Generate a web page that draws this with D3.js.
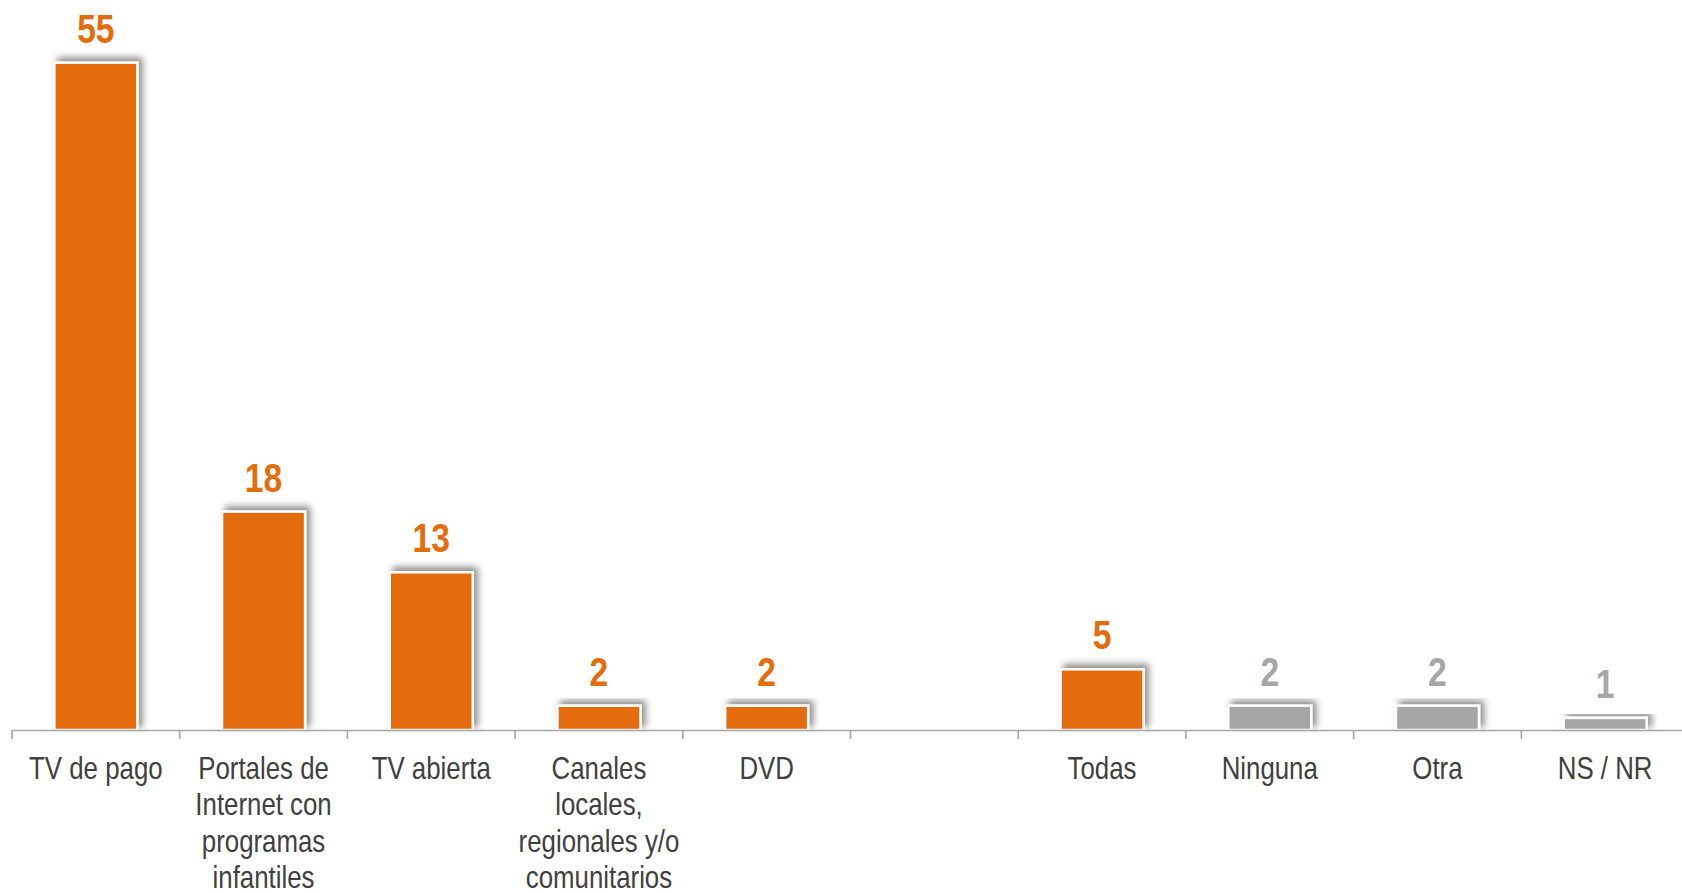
<!DOCTYPE html>
<html>
<head>
<meta charset="utf-8">
<script src="https://cdn.jsdelivr.net/npm/d3@7"></script>
<style>
  body { margin: 0; background: #fff; }
  svg { display: block; }
</style>
</head>
<body>
<svg id="chart" width="1682" height="893"></svg>
<script>
// categories, one empty slot between DVD and Todas
const categories = ["TV de pago", "Portales de Internet con programas infantiles", "TV abierta",
  "Canales locales, regionales y/o comunitarios", "DVD", "", "Todas", "Ninguna", "Otra", "NS / NR"];
const labelLines = [["TV de pago"], ["Portales de", "Internet con", "programas", "infantiles"], ["TV abierta"],
  ["Canales", "locales,", "regionales y/o", "comunitarios"], ["DVD"], [], ["Todas"], ["Ninguna"], ["Otra"], ["NS / NR"]];
const values = [55, 18, 13, 2, 2, null, 5, 2, 2, 1];
const groups = ["main", "main", "main", "main", "main", "none", "main", "other", "other", "other"];

const orange = "#E46C0A", grey = "#A6A6A6";
const fontFam = "'Liberation Sans', Arial, sans-serif";
const narrow = 0.82; // no Arial Narrow here, so squeeze Liberation Sans

const svg = d3.select("#chart");
const baseY = 730;

const x = d3.scaleBand()
  .domain(d3.range(categories.length))
  .range([12, 1689])
  .paddingInner(0.505)
  .paddingOuter(0.2525);

const y = d3.scaleLinear()
  .domain([0, 60])
  .range([baseY, 2]);

// shadow
const defs = svg.append("defs");
const f = defs.append("filter").attr("id", "shadow")
  .attr("x", "-30%").attr("y", "-30%").attr("width", "160%").attr("height", "160%");
f.append("feDropShadow")
  .attr("dx", 4).attr("dy", -4).attr("stdDeviation", 3.5)
  .attr("flood-color", "#000").attr("flood-opacity", 0.45);

const data = categories.map((c, i) => ({ i: i, cat: c, v: values[i], g: groups[i] }))
  .filter(d => d.v != null);

svg.append("g").selectAll("rect")
  .data(data)
  .join("rect")
  .attr("x", d => x(d.i))
  .attr("y", d => y(d.v))
  .attr("width", x.bandwidth())
  .attr("height", d => y(0) - y(d.v))
  .attr("fill", d => d.g == "other" ? grey : orange)
  .attr("stroke", "#fff")
  .attr("stroke-width", 2.5)
  .attr("filter", "url(#shadow)");

// value labels
svg.append("g").selectAll("g")
  .data(data)
  .join("g")
  .attr("transform", d => `translate(${x(d.i) + x.bandwidth() / 2},${y(d.v) - 20}) scale(${narrow},1)`)
  .append("text")
  .attr("text-anchor", "middle")
  .style("font-family", fontFam)
  .style("font-weight", "bold")
  .style("font-size", "41px")
  .attr("fill", d => d.g == "other" ? grey : orange)
  .text(d => d.v);

// axis
const axis = svg.append("g")
  .attr("transform", `translate(0,${baseY})`)
  .call(d3.axisBottom(x).tickSize(0).tickFormat(""));
axis.select(".domain").attr("stroke", grey).attr("stroke-width", 1.6);

// boundary ticks
const bounds = d3.range(categories.length).map(i => x(i) - x.step() * x.paddingInner() / 2);
axis.selectAll(".btick")
  .data(bounds)
  .join("line")
  .attr("class", "btick")
  .attr("x1", d => d).attr("x2", d => d)
  .attr("y1", 0).attr("y2", 9)
  .attr("stroke", grey).attr("stroke-width", 1.6);

// category labels
const lbl = svg.append("g").selectAll("g")
  .data(labelLines.map((l, i) => ({ i: i, lines: l })))
  .join("g")
  .attr("transform", d => `translate(${x(d.i) + x.bandwidth() / 2},${baseY + 49}) scale(${narrow},1)`)
  .append("text")
  .attr("text-anchor", "middle")
  .style("font-family", fontFam)
  .style("font-size", "31.5px")
  .attr("fill", "#404040");
lbl.selectAll("tspan")
  .data(d => d.lines)
  .join("tspan")
  .attr("x", 0)
  .attr("dy", (d, j) => j == 0 ? 0 : 36.5)
  .text(d => d);
</script>
</body>
</html>
